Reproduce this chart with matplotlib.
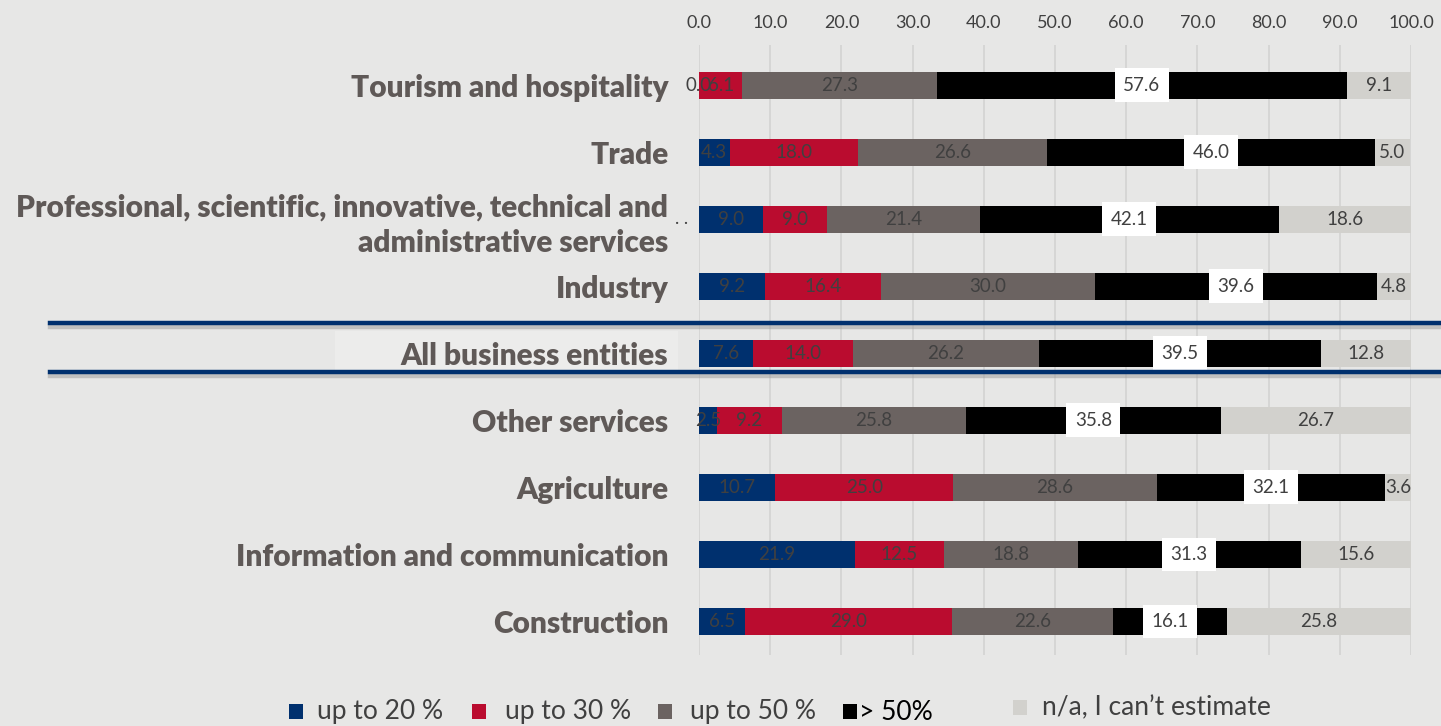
import matplotlib.pyplot as plt
import matplotlib.patheffects as pe
from matplotlib.lines import Line2D
from matplotlib.patches import Rectangle

plt.rcParams['font.family'] = ['Lato', 'DejaVu Sans']

categories = [
    'Tourism and hospitality',
    'Trade',
    'Professional, scientific, innovative, technical and\nadministrative services',
    'Industry',
    'All business entities',
    'Other services',
    'Agriculture',
    'Information and communication',
    'Construction',
]
series_names = ['up to 20 %', 'up to 30 %', 'up to 50 %', '> 50%', 'n/a, I can\u2019t estimate']
up_to_20 = [0.0, 4.3, 9.0, 9.2, 7.6, 2.5, 10.7, 21.9, 6.5]
up_to_30 = [6.1, 18.0, 9.0, 16.4, 14.0, 9.2, 25.0, 12.5, 29.0]
up_to_50 = [27.3, 26.6, 21.4, 30.0, 26.2, 25.8, 28.6, 18.8, 22.6]
over_50 = [57.6, 46.0, 42.1, 39.6, 39.5, 35.8, 32.1, 31.3, 16.1]
not_known = [9.1, 5.0, 18.6, 4.8, 12.8, 26.7, 3.6, 15.6, 25.8]
x_ticks = [0, 10, 20, 30, 40, 50, 60, 70, 80, 90, 100]

colors = ['#00306e', '#ba0c2f', '#6b6361', '#000000', '#d2d1cd']
bg = '#e7e7e6'
text_col = '#404040'
cat_col = '#5f5957'

fig = plt.figure(figsize=(14.41, 7.26), dpi=100, facecolor=bg)
W, H = 1441, 726
ax = fig.add_axes([699 / W, 1 - 655 / H, (1411 - 699) / W, (655 - 45) / H])
ax.set_facecolor(bg)

rows = list(range(len(categories)))
left = [0.0] * len(categories)
for vals, col in zip([up_to_20, up_to_30, up_to_50, over_50, not_known], colors):
    ax.barh(rows, vals, left=left, height=0.4, color=col, edgecolor='none', zorder=2)
    for r, v, l in zip(rows, vals, left):
        xc = l + v / 2
        if col == '#000000':
            ax.text(xc, r, f'{v:.1f}', ha='center', va='center', fontsize=13.5,
                    color=text_col, zorder=4,
                    bbox=dict(boxstyle='square,pad=0.45', fc='white', ec='none'))
        else:
            ax.text(xc, r, f'{v:.1f}', ha='center', va='center', fontsize=13.5,
                    color=text_col, zorder=4)
    left = [l + v for l, v in zip(left, vals)]

# stray label left of the professional services row
ax.text(-1.5, 2, '. .', ha='right', va='center', fontsize=13, color=text_col)

ax.set_xlim(0, 100)
ax.set_ylim(8.5, -0.6)
ax.xaxis.tick_top()
ax.set_xticks(x_ticks)
ax.set_xticklabels([f'{t:.1f}' for t in x_ticks], fontsize=13, color=text_col)
ax.tick_params(axis='x', length=0, pad=10)
ax.set_yticks(rows)
ax.set_yticklabels(categories, fontsize=21.5, fontweight='heavy', color=cat_col,
                   linespacing=1.3)
ax.tick_params(axis='y', length=0, pad=22)
ax.grid(axis='x', color='#d3d3d2', linewidth=1.2, zorder=0)
for s in ax.spines.values():
    s.set_visible(False)

# highlight box behind the total row label
fig.add_artist(Rectangle((335 / W, 1 - 370 / H), (678 - 335) / W, 39 / H,
                         transform=fig.transFigure, facecolor='#ececeb',
                         edgecolor='none', zorder=-1))

# navy separators around the total row
for yp in [323, 372]:
    ln = Line2D([50 / W, 1], [1 - yp / H, 1 - yp / H], transform=fig.transFigure,
                color='#00306e', linewidth=3.2, zorder=5)
    ln.set_path_effects([pe.SimpleLineShadow(offset=(0, -3), shadow_color='#9a9a9a', alpha=0.5),
                         pe.Normal()])
    fig.add_artist(ln)

# legend
legend_x = [289, 472, 658, 843, 1013]
legend_text_x = [317, 505, 690, 859, 1042]
legend_y = [712, 712, 712, 712, 708]
for col, name, sx, tx, ly in zip(colors, series_names, legend_x, legend_text_x, legend_y):
    fig.add_artist(Rectangle((sx / W, 1 - (ly + 7) / H), 14 / W, 15 / H,
                             transform=fig.transFigure, facecolor=col, edgecolor='none'))
    fig.text(tx / W, 1 - ly / H, name, ha='left', va='center', fontsize=19,
             color=text_col if col != '#000000' else '#000000')

fig.savefig('out.png', dpi=100, facecolor=bg)
